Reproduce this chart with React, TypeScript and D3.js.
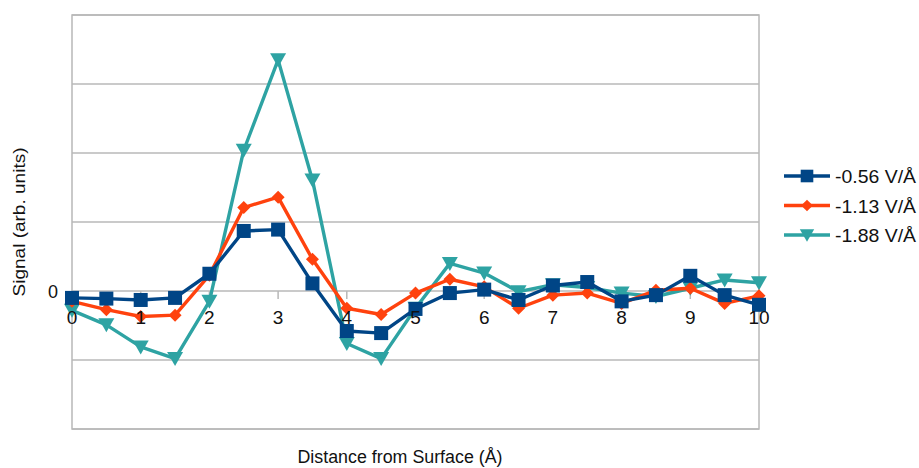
import React from "react";
import * as d3 from "d3";

// Distance from surface (Å), sampled every 0.5 Å
const distances = [0, 0.5, 1, 1.5, 2, 2.5, 3, 3.5, 4, 4.5, 5, 5.5, 6, 6.5, 7, 7.5, 8, 8.5, 9, 9.5, 10];

// Signal (arb. units) for each field strength
const field056 = [-0.1, -0.11, -0.13, -0.1, 0.25, 0.87, 0.89, 0.11, -0.58, -0.61, -0.26, -0.03, 0.02, -0.13, 0.08, 0.13, -0.15, -0.06, 0.22, -0.06, -0.2];
const field113 = [-0.15, -0.27, -0.37, -0.35, 0.23, 1.21, 1.36, 0.46, -0.25, -0.34, -0.03, 0.17, 0.06, -0.25, -0.06, -0.03, -0.18, 0.01, 0.04, -0.18, -0.07];
const field188 = [-0.28, -0.49, -0.81, -0.98, -0.15, 2.04, 3.35, 1.61, -0.76, -0.98, -0.25, 0.4, 0.26, -0.01, 0.09, 0.05, -0.03, -0.08, 0.04, 0.16, 0.12];

const seriesNames = ["-0.56 V/Å", "-1.13 V/Å", "-1.88 V/Å"];
const xTicks = [0, 1, 2, 3, 4, 5, 6, 7, 8, 9, 10];
const yGrid = [-2, -1, 0, 1, 2, 3, 4];

const W = 919;
const H = 468;
const plot = { left: 72, right: 759, top: 15, bottom: 429 };
const font = "'Liberation Sans', Arial, sans-serif";

type Series = { name: string; values: number[]; color: string; marker: "square" | "diamond" | "triangle" };

const series: Series[] = [
  { name: seriesNames[0], values: field056, color: "#004586", marker: "square" },
  { name: seriesNames[1], values: field113, color: "#ff420e", marker: "diamond" },
  { name: seriesNames[2], values: field188, color: "#2ea3a3", marker: "triangle" },
];

function Marker({ kind, x, y, color, scale = 1 }: { kind: Series["marker"]; x: number; y: number; color: string; scale?: number }) {
  if (kind === "square") {
    const s = 14 * scale;
    return <rect x={x - s / 2} y={y - s / 2} width={s} height={s} fill={color} />;
  }
  if (kind === "diamond") {
    const r = 6.5 * scale;
    return <path d={`M${x},${y - r}L${x + r},${y}L${x},${y + r}L${x - r},${y}Z`} fill={color} />;
  }
  const w = 8 * scale;
  return <path d={`M${x - w},${y - 6.5 * scale}L${x + w},${y - 6.5 * scale}L${x},${y + 7.5 * scale}Z`} fill={color} />;
}

export default function App() {
  const x = d3.scaleLinear().domain([0, 10]).range([plot.left, plot.right]);
  const y = d3.scaleLinear().domain([-2, 4]).range([plot.bottom, plot.top]);
  const line = d3
    .line<number>()
    .x((_, i) => x(distances[i]))
    .y((v) => y(v));

  const drawOrder = [series[2], series[1], series[0]];

  return (
    <svg
      width={W}
      height={H}
      style={{ position: "absolute", left: 0, top: 0, background: "#fff" }}
      fontFamily={font}
    >
      <rect width={W} height={H} fill="#fff" />
      {/* horizontal gridlines */}
      {yGrid.map((g) => (
        <line key={g} x1={plot.left} x2={plot.right} y1={y(g)} y2={y(g)} stroke="#b8b8b8" strokeWidth={1.5} />
      ))}
      {/* plot frame */}
      <rect
        x={plot.left}
        y={plot.top}
        width={plot.right - plot.left}
        height={plot.bottom - plot.top}
        fill="none"
        stroke="#b8b8b8"
        strokeWidth={1.5}
      />
      {/* ticks on the zero line */}
      {xTicks.map((t) => (
        <line key={t} x1={x(t)} x2={x(t)} y1={y(0)} y2={y(0) + 8} stroke="#b8b8b8" strokeWidth={1.5} />
      ))}
      {/* series */}
      {drawOrder.map((s) => (
        <g key={s.name}>
          <path d={line(s.values) || ""} fill="none" stroke={s.color} strokeWidth={3.4} strokeLinejoin="round" />
          {s.values.map((v, i) => (
            <Marker key={i} kind={s.marker} x={x(distances[i])} y={y(v)} color={s.color} />
          ))}
        </g>
      ))}
      {/* x tick labels */}
      {xTicks.map((t) => (
        <text key={t} x={x(t)} y={y(0) + 33} textAnchor="middle" fontSize={19} fill="#111">
          {t}
        </text>
      ))}
      {/* y zero label */}
      <text x={58} y={y(0) + 6.5} textAnchor="end" fontSize={18} fill="#111">
        0
      </text>
      {/* axis titles */}
      <text
        transform={`translate(25,222) rotate(-90)`}
        textAnchor="middle"
        fontSize={16.5}
        textLength={149}
        lengthAdjust="spacingAndGlyphs"
        fill="#111"
      >
        Signal (arb. units)
      </text>
      <text x={400} y={463} textAnchor="middle" fontSize={17.5} textLength={205} lengthAdjust="spacingAndGlyphs" fill="#111">
        Distance from Surface (Å)
      </text>
      {/* legend */}
      {series.map((s, i) => {
        const ly = 176 + i * 29.5;
        return (
          <g key={s.name}>
            <line x1={784} x2={830} y1={ly} y2={ly} stroke={s.color} strokeWidth={3.4} />
            <Marker kind={s.marker} x={807} y={ly} color={s.color} scale={0.9} />
            <text x={835} y={ly + 7} fontSize={18.5} textLength={81} lengthAdjust="spacingAndGlyphs" fill="#111">
              {s.name}
            </text>
          </g>
        );
      })}
    </svg>
  );
}
